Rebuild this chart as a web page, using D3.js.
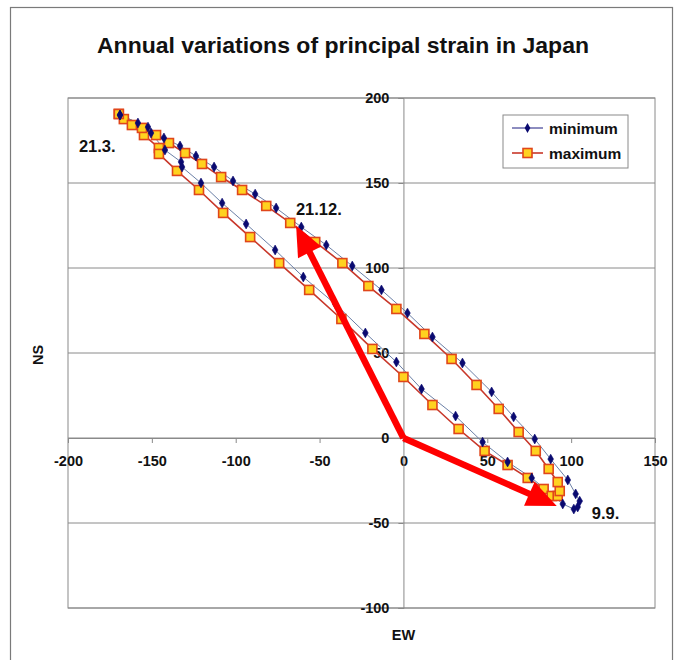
<!DOCTYPE html>
<html>
<head>
<meta charset="utf-8">
<script src="https://cdn.jsdelivr.net/npm/d3@7"></script>
<style>
  body { margin: 0; background: #fff; }
  text { font-family: "Liberation Sans", Arial, sans-serif; }
</style>
</head>
<body>
<div id="chart"></div>
<script>
// maximum series (yellow squares), March -> September -> December -> March
var ewMax = [-169.7, -166.7, -161.9, -154.7, -145.8, -145.8, -135.0, -121.9, -107.5, -91.4, -74.1, -56.2, -37.0, -18.5, 0.0, 17.3, 32.9, 48.4, 62.1, 74.1, 83.6, 88.4,
             92.0, 93.2, 92.0, 86.6, 78.9, 68.7, 56.8, 43.6, 28.7, 12.5, -4.2, -20.9, -36.4, -52.6, -67.5, -81.8, -96.2, -108.7, -120.1, -130.2, -139.8, -147.5, -155.9, -169.7];
var nsMax = [190.6, 187.6, 184.1, 178.2, 170.6, 167.1, 157.1, 145.9, 132.4, 118.2, 102.9, 87.1, 70.0, 52.4, 35.9, 19.4, 5.3, -7.6, -15.9, -23.5, -30.0, -34.1,
             -34.1, -31.2, -25.9, -18.2, -7.6, 3.5, 17.1, 31.2, 46.5, 61.2, 75.9, 89.4, 102.9, 115.3, 126.5, 136.5, 145.9, 153.5, 161.2, 167.6, 173.5, 178.2, 182.4, 190.6];

// minimum series (navy dots)
var ewMin = [-169.0, -158.3, -150.5, -142.2, -132.6, -132.0, -120.7, -108.1, -93.8, -76.5, -59.7, -40.6, -22.7, -4.2, 10.8, 31.1, 47.2, 62.1, 76.5, 95.0, 101.6,
             103.9, 105.1, 102.7, 98.0, 87.8, 78.3, 65.7, 52.6, 35.2, 17.3, 2.4, -13.1, -30.5, -46.0, -60.9, -75.9, -88.4, -101.6, -112.9, -123.7, -133.2, -142.8, -152.3, -169.0];
var nsMin = [190.0, 185.3, 179.4, 169.4, 162.4, 159.4, 150.0, 138.2, 125.9, 110.6, 94.7, 78.8, 61.8, 44.7, 28.8, 12.9, -2.4, -14.1, -23.5, -38.8, -41.8,
             -40.6, -37.1, -32.9, -24.7, -12.4, -0.6, 12.4, 27.1, 44.1, 59.4, 73.5, 87.1, 101.2, 113.5, 124.1, 135.3, 143.5, 151.2, 159.4, 165.9, 171.8, 176.5, 182.9, 190.0];

// date labels
var labelText = ["21.3.", "21.12.", "9.9."];
var labelEW = [-193.5, -64.1, 112.3];
var labelNS = [168.5, 131.0, -47.5];

// principal strain arrows from the origin
var arrowEW = [-64.0, 91.4];
var arrowNS = [125.0, -40.0];

var xTicks = [-200, -150, -100, -50, 0, 50, 100, 150];
var yTicks = [-100, -50, 0, 50, 100, 150, 200];
var seriesNames = ["minimum", "maximum"];

var width = 685, height = 660;
var svg = d3.select("#chart").append("svg").attr("width", width).attr("height", height);

// outer frame
svg.append("rect").attr("x", 10.5).attr("y", 7.5).attr("width", 662).attr("height", 670)
  .attr("fill", "white").attr("stroke", "#7a7a7a").attr("stroke-width", 1.2);

svg.append("text").attr("x", 343).attr("y", 53).attr("text-anchor", "middle")
  .attr("font-size", "22.5px").attr("font-weight", "bold").attr("fill", "#111")
  .attr("textLength", 492).attr("lengthAdjust", "spacingAndGlyphs")
  .text("Annual variations of principal strain in Japan");

var x = d3.scaleLinear().domain([-200, 150]).range([68, 655]);
var y = d3.scaleLinear().domain([-100, 200]).range([608, 98]);

// gridlines
svg.append("g").selectAll("line").data(yTicks).enter().append("line")
  .attr("x1", x(-200)).attr("x2", x(150))
  .attr("y1", function(d) { return y(d); }).attr("y2", function(d) { return y(d); })
  .attr("stroke", "#8a8a8a").attr("stroke-width", 1);

// plot border
svg.append("rect").attr("x", x(-200)).attr("y", y(200))
  .attr("width", x(150) - x(-200)).attr("height", y(-100) - y(200))
  .attr("fill", "none").attr("stroke", "#8a8a8a").attr("stroke-width", 1);

// axes crossing at 0, plain hyphen for negatives like the original
var fmt = function(d) { return String(d); };
var xAxis = svg.append("g").attr("transform", "translate(0," + y(0) + ")")
  .call(d3.axisBottom(x).tickValues(xTicks).tickSize(5).tickPadding(13).tickFormat(fmt));
var yAxis = svg.append("g").attr("transform", "translate(" + x(0) + ",0)")
  .call(d3.axisLeft(y).tickValues(yTicks).tickSize(5).tickPadding(9).tickFormat(fmt));
[xAxis, yAxis].forEach(function(a) {
  a.select(".domain").attr("stroke", "#8a8a8a");
  a.selectAll(".tick line").attr("stroke", "#8a8a8a");
  a.selectAll("text").attr("font-size", "14.5px").attr("font-weight", "bold")
    .attr("fill", "#111").style("font-family", "Liberation Sans, Arial, sans-serif");
});

svg.append("text").attr("x", x(0)).attr("y", 640).attr("text-anchor", "middle")
  .attr("font-size", "14.5px").attr("font-weight", "bold").attr("fill", "#111").text("EW");
svg.append("text").attr("transform", "translate(43,355) rotate(-90)").attr("text-anchor", "middle")
  .attr("font-size", "14.5px").attr("font-weight", "bold").attr("fill", "#111").text("NS");

var line = d3.line().x(function(d) { return x(d[0]); }).y(function(d) { return y(d[1]); });
var minPts = ewMin.map(function(v, i) { return [v, nsMin[i]]; });
var maxPts = ewMax.map(function(v, i) { return [v, nsMax[i]]; });

svg.append("path").datum(maxPts).attr("d", line).attr("fill", "none")
  .attr("stroke", "#c8372a").attr("stroke-width", 1.6);
svg.append("path").datum(minPts).attr("d", line).attr("fill", "none")
  .attr("stroke", "#6b7fa6").attr("stroke-width", 1);

svg.append("g").selectAll("rect").data(maxPts).enter().append("rect")
  .attr("x", function(d) { return x(d[0]) - 4.5; }).attr("y", function(d) { return y(d[1]) - 4.5; })
  .attr("width", 9).attr("height", 9)
  .attr("fill", "#ffd21f").attr("stroke", "#e0461a").attr("stroke-width", 1.6);

var diamond = d3.symbol().type(d3.symbolDiamond).size(28);
svg.append("g").selectAll("path").data(minPts).enter().append("path")
  .attr("d", diamond)
  .attr("transform", function(d) { return "translate(" + x(d[0]) + "," + y(d[1]) + ")"; })
  .attr("fill", "#0a0a70").attr("stroke", "#0a0a70").attr("stroke-width", 0.6);

// arrows
arrowEW.forEach(function(ew, i) {
  var x0 = x(0), y0 = y(0), x1 = x(ew), y1 = y(arrowNS[i]);
  var dx = x1 - x0, dy = y1 - y0, len = Math.sqrt(dx * dx + dy * dy);
  var ux = dx / len, uy = dy / len, L = 30, W = 13;
  var bx = x1 - ux * L, by = y1 - uy * L;
  svg.append("line").attr("x1", x0).attr("y1", y0).attr("x2", bx + ux * 2).attr("y2", by + uy * 2)
    .attr("stroke", "#ff0000").attr("stroke-width", 6.5);
  svg.append("polygon")
    .attr("points", [[x1, y1], [bx - uy * W, by + ux * W], [bx + uy * W, by - ux * W]].map(function(p) { return p.join(","); }).join(" "))
    .attr("fill", "#ff0000");
});

svg.append("g").selectAll("text").data(labelText).enter().append("text")
  .attr("x", function(d, i) { return x(labelEW[i]); }).attr("y", function(d, i) { return y(labelNS[i]); })
  .attr("font-size", "16.5px").attr("font-weight", "bold").attr("fill", "#111")
  .text(function(d) { return d; });

// legend
var lg = svg.append("g").attr("transform", "translate(503,115)");
lg.append("rect").attr("width", 125).attr("height", 53).attr("fill", "white").attr("stroke", "#8a8a8a");
seriesNames.forEach(function(name, i) {
  var ly = 13 + i * 25;
  lg.append("line").attr("x1", 9).attr("x2", 40).attr("y1", ly).attr("y2", ly)
    .attr("stroke", i == 0 ? "#1a1a80" : "#c8372a").attr("stroke-width", i == 0 ? 1 : 1.6);
  if (i == 0) {
    lg.append("path").attr("d", diamond).attr("transform", "translate(24.5," + ly + ")").attr("fill", "#0a0a70");
  } else {
    lg.append("rect").attr("x", 20).attr("y", ly - 4.5).attr("width", 9).attr("height", 9)
      .attr("fill", "#ffd21f").attr("stroke", "#e0461a").attr("stroke-width", 1.6);
  }
  lg.append("text").attr("x", 46).attr("y", ly + 5.5).attr("font-size", "15.5px").attr("font-weight", "bold")
    .attr("fill", "#111").text(name);
});
</script>
</body>
</html>
